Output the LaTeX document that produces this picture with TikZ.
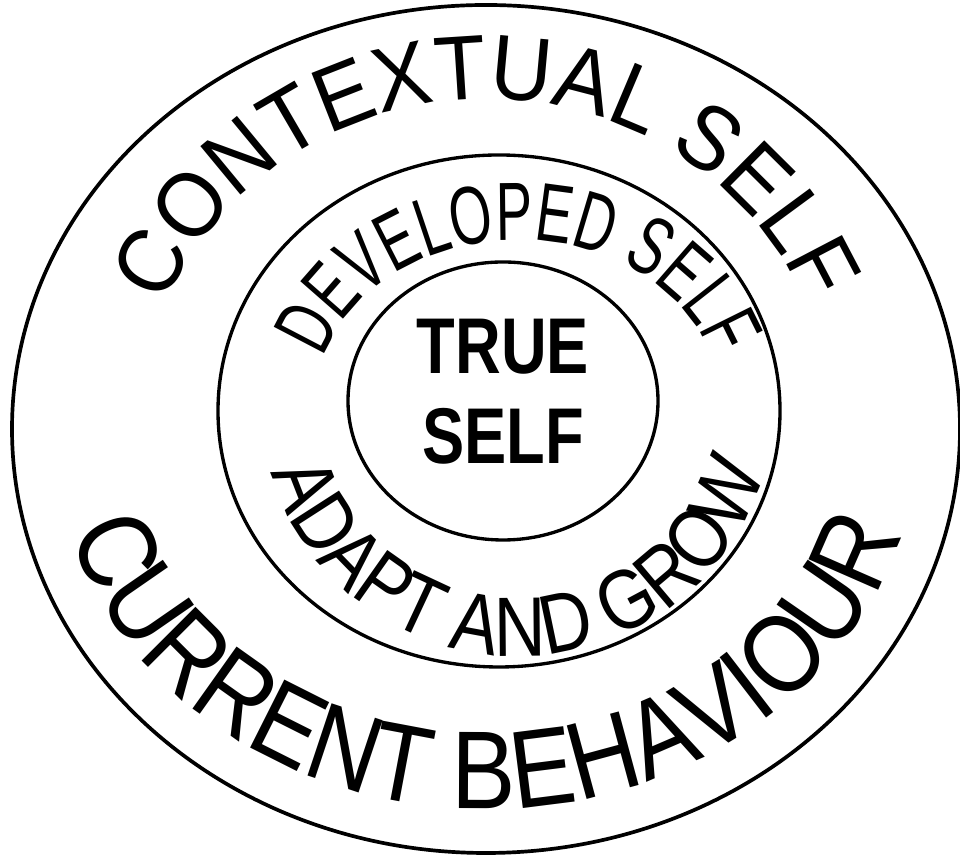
\documentclass[tikz,border=0pt]{standalone}
\usepackage{fontspec}
\setmainfont{Liberation Sans}
\newfontfamily\outerfont[FakeStretch=0.93]{Liberation Sans}
\newfontfamily\outerlowfont[FakeStretch=0.87]{Liberation Sans}
\newfontfamily\midtopfont[FakeStretch=0.66]{Liberation Sans}
\newfontfamily\midlowfont[FakeStretch=0.85]{Liberation Sans}
\newfontfamily\corefont[FakeStretch=0.8]{Liberation Sans}
\usetikzlibrary{decorations.text}

\begin{document}
\begin{tikzpicture}[x=0.02cm, y=0.02cm,
  ring/.style={draw, line width=1.9pt},
  curved/.style={decorate, decoration={text along path, text align=center, text={#1}}}
]
\useasboundingbox (0,0) rectangle (960,857);

% Centres
\coordinate (outerc) at (486,428);
\coordinate (midc) at (499,446);
\coordinate (innerc) at (503,456);
\coordinate (midtxt) at (518,452);

% Rings
\draw[ring, line width=2.1pt] (outerc) ellipse [x radius=474, y radius=424];
\draw[ring] (midc) ellipse [x radius=281, y radius=256];
\draw[ring] (innerc) ellipse [x radius=155, y radius=139];

% Outer ring texts
\path[curved={|\outerfont\fontsize{52pt}{52pt}\selectfont|CONTEXTUAL SELF}]
  ([shift={(170:346 and 330)}]outerc) arc[start angle=170, end angle=10, x radius=346, y radius=330];
\path[curved={|\outerlowfont\fontsize{63pt}{63pt}\selectfont|CURRENT BEHAVIOUR}]
  ([shift={(188:432 and 380)}]outerc) arc[start angle=188, end angle=352, x radius=432, y radius=380];

% Middle ring texts
\path[curved={|\midtopfont\fontsize{47pt}{47pt}\selectfont|DEVELOPED SELF}]
  ([shift={(172:203 and 165)}]midtxt) arc[start angle=172, end angle=8, x radius=203, y radius=165];
\path[curved={|\midlowfont\fontsize{48pt}{48pt}\selectfont|ADAPT AND GROW}]
  ([shift={(188:256 and 251)}]midtxt) arc[start angle=188, end angle=352, x radius=256, y radius=251];

% Core
\node[font=\corefont\bfseries\fontsize{45pt}{51pt}\selectfont, align=center] (core) at (503,465) {TRUE\\SELF};

\end{tikzpicture}
\end{document}
